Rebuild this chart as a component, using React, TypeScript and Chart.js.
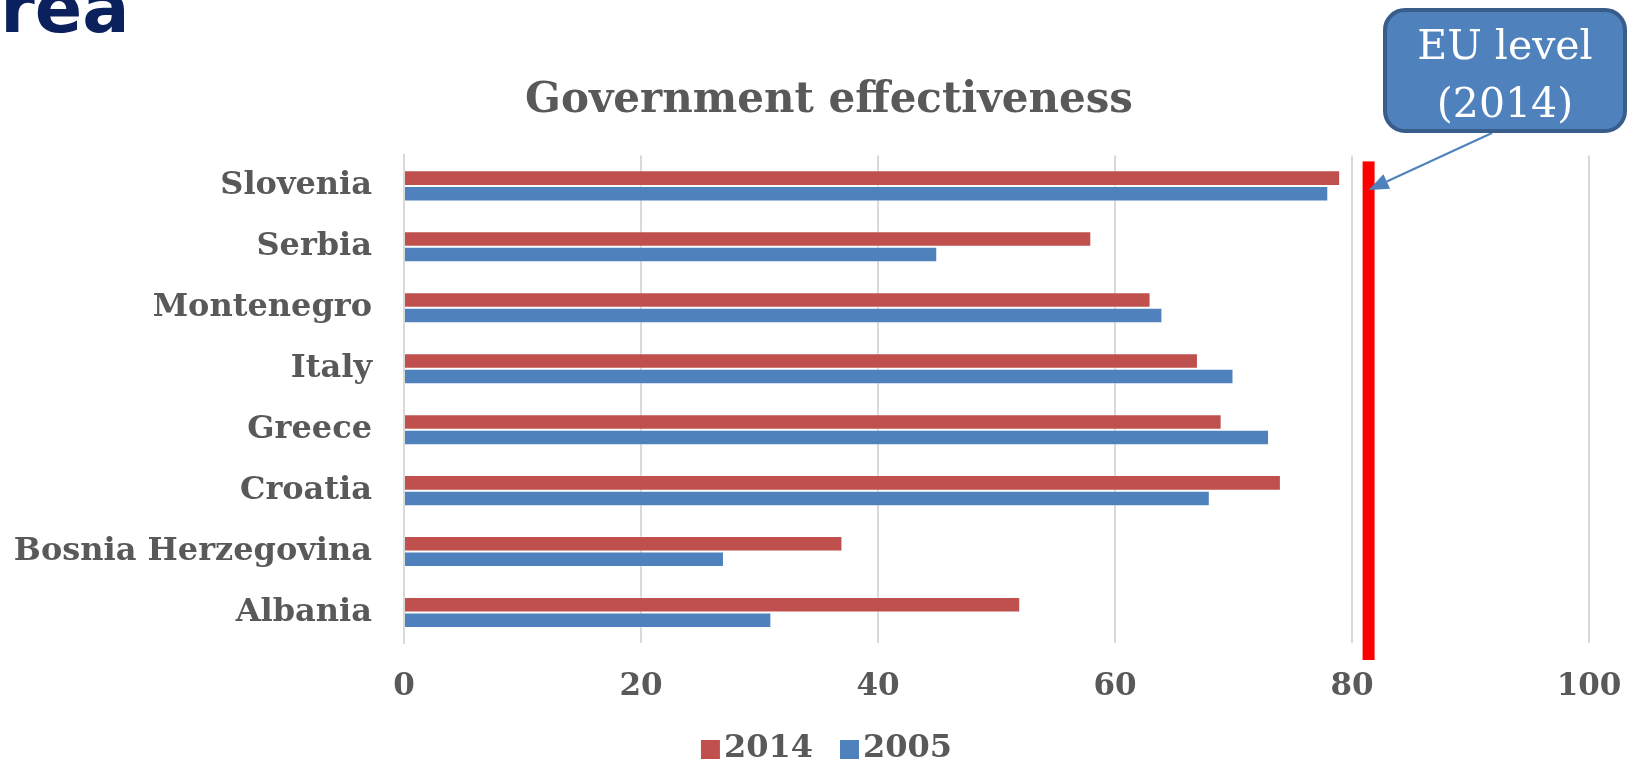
import React, { useEffect, useRef } from "react";
import { Chart, registerables } from "chart.js";

Chart.register(...registerables);

const categories = [
  "Slovenia",
  "Serbia",
  "Montenegro",
  "Italy",
  "Greece",
  "Croatia",
  "Bosnia Herzegovina",
  "Albania",
];
const values2014 = [79, 58, 63, 67, 69, 74, 37, 52];
const values2005 = [78, 45, 64, 70, 73, 68, 27, 31];
const seriesLabels = ["2014", "2005"];
const euLevel2014 = 81.4;
const xTicks = [0, 20, 40, 60, 80, 100];
const titleText = "Government effectiveness";
const calloutLines = ["EU level", "(2014)"];

const GRAY = "#595959";
const RED = "#C0504D";
const BLUE = "#4F81BD";
const FONT = "'DejaVu Serif', Georgia, serif";

function makeSwatch(color: string) {
  // legend swatch: a square placed slightly left of the legend box origin
  const c = document.createElement("canvas");
  c.width = 40;
  c.height = 19;
  const g = c.getContext("2d")!;
  g.fillStyle = color;
  g.fillRect(14, 0, 19, 19);
  return c;
}

const euLinePlugin = {
  id: "euLine",
  afterDatasetsDraw(chart: any) {
    const { ctx, chartArea, scales } = chart;
    const x = scales.x.getPixelForValue(euLevel2014);
    ctx.save();
    // red EU level line
    ctx.fillStyle = "#FF0000";
    const top = chartArea.top + 6;
    const bottom = chartArea.bottom + 17;
    ctx.fillRect(x - 6, top, 12, bottom - top);
    // arrow from the callout to the line
    const tipX = x;
    const tipY = scales.y.getPixelForValue(0) + 4;
    const sx = 1492;
    const sy = 133;
    const dx = sx - tipX;
    const dy = sy - tipY;
    const len = Math.sqrt(dx * dx + dy * dy);
    const ux = dx / len;
    const uy = dy / len;
    const headL = 20;
    const headW = 8;
    const bx = tipX + ux * headL;
    const by = tipY + uy * headL;
    ctx.strokeStyle = BLUE;
    ctx.lineWidth = 2;
    ctx.beginPath();
    ctx.moveTo(sx, sy);
    ctx.lineTo(bx, by);
    ctx.stroke();
    ctx.fillStyle = BLUE;
    ctx.beginPath();
    ctx.moveTo(tipX, tipY);
    ctx.lineTo(bx - uy * headW, by + ux * headW);
    ctx.lineTo(bx + uy * headW, by - ux * headW);
    ctx.closePath();
    ctx.fill();
    ctx.restore();
  },
};

export default function App() {
  const canvasRef = useRef<HTMLCanvasElement | null>(null);

  useEffect(() => {
    if (!canvasRef.current) return;
    const swatches = [makeSwatch(RED), makeSwatch(BLUE)];
    const chart = new Chart(canvasRef.current, {
      type: "bar",
      data: {
        labels: categories,
        datasets: [
          {
            label: seriesLabels[0],
            data: values2014,
            backgroundColor: RED,
            borderColor: "rgba(255,255,255,0.35)",
            borderWidth: 1,
            categoryPercentage: 0.51,
            barPercentage: 1.0,
          },
          {
            label: seriesLabels[1],
            data: values2005,
            backgroundColor: BLUE,
            borderColor: "rgba(255,255,255,0.35)",
            borderWidth: 1,
            categoryPercentage: 0.51,
            barPercentage: 1.0,
          },
        ],
      },
      options: {
        indexAxis: "y",
        responsive: false,
        animation: false,
        devicePixelRatio: 1,
        layout: { padding: { left: 0, right: -30, top: 0, bottom: -8 } },
        scales: {
          x: {
            min: 0,
            max: 100,
            afterBuildTicks: (scale: any) => {
              scale.ticks = xTicks.map((v) => ({ value: v }));
            },
            afterFit: (scale: any) => {
              scale.height = 58;
              scale.paddingLeft = 0;
              scale.paddingRight = 0;
            },
            grid: { color: "#D9D9D9", lineWidth: 2, drawTicks: false },
            border: { display: false },
            ticks: {
              padding: 25,
              color: GRAY,
              font: { family: FONT, size: 31, weight: "bold" },
            },
          },
          y: {
            afterFit: (scale: any) => {
              scale.width = 404;
            },
            grid: { display: false, drawTicks: false },
            border: { display: true, color: "#D9D9D9", width: 2 },
            ticks: {
              padding: 32,
              color: GRAY,
              font: { family: FONT, size: 32, weight: "bold" },
            },
          },
          y2: {
            type: "linear",
            position: "right",
            display: true,
            afterFit: (scale: any) => {
              scale.width = 69;
            },
            grid: { display: false, drawTicks: false },
            border: { display: false },
            ticks: { display: false },
          },
        },
        plugins: {
          title: {
            display: true,
            text: titleText,
            color: GRAY,
            font: { family: FONT, size: 42, weight: "bold" },
            padding: { top: 76, bottom: 29 },
          },
          legend: {
            position: "bottom",
            labels: {
              usePointStyle: true,
              pointStyleWidth: 2,
              boxHeight: 19,
              padding: 32,
              color: GRAY,
              font: { family: FONT, size: 32, weight: "bold" },
              generateLabels: (c: any) => {
                const items = (Chart as any).defaults.plugins.legend.labels.generateLabels(c);
                return items.map((it: any, i: number) => ({
                  ...it,
                  pointStyle: swatches[i % swatches.length],
                }));
              },
            },
          },
          tooltip: { enabled: false },
        },
      },
      plugins: [euLinePlugin],
    } as any);
    return () => chart.destroy();
  }, []);

  return (
    <div
      style={{
        position: "fixed",
        left: 0,
        top: 0,
        width: 1628,
        height: 767,
        overflow: "hidden",
        background: "#FFFFFF",
      }}
    >
      <canvas
        ref={canvasRef}
        width={1628}
        height={767}
        style={{ display: "block", width: 1628, height: 767 }}
      />
      <div
        style={{
          position: "absolute",
          left: -47,
          top: -27,
          fontFamily: "'DejaVu Sans', Verdana, sans-serif",
          fontWeight: "bold",
          fontSize: 70,
          lineHeight: "70px",
          color: "#0B215E",
          whiteSpace: "nowrap",
        }}
      >
        area
      </div>
      <div
        style={{
          position: "absolute",
          left: 1383,
          top: 8,
          width: 244,
          height: 125,
          boxSizing: "border-box",
          border: "4px solid #385D8A",
          borderRadius: 22,
          background: BLUE,
          color: "#FFFFFF",
          fontFamily: FONT,
          fontSize: 41,
          lineHeight: "58px",
          textAlign: "center",
          paddingTop: 4,
        }}
      >
        {calloutLines.map((l) => (
          <div key={l}>{l}</div>
        ))}
      </div>
    </div>
  );
}
